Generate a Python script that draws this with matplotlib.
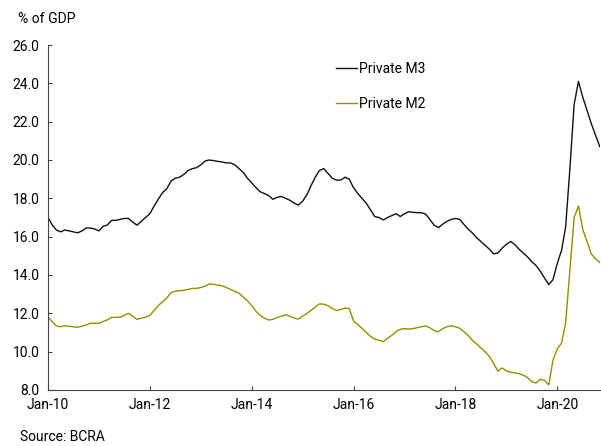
import matplotlib
matplotlib.use('Agg')
import matplotlib.pyplot as plt
import matplotlib.dates as mdates
import pandas as pd

plt.rcParams['font.family'] = ['Roboto', 'DejaVu Sans']

# monthly, Jan-2010 .. Nov-2020, % of GDP
months = pd.date_range('2010-01-01', '2020-11-01', freq='MS')

private_m3 = [
    17.0, 16.6, 16.35, 16.25, 16.35, 16.3, 16.25, 16.2, 16.3, 16.45, 16.45, 16.4,
    16.3, 16.55, 16.6, 16.85, 16.85, 16.9, 16.95, 16.95, 16.75, 16.6, 16.8, 17.0,
    17.2, 17.6, 17.95, 18.3, 18.5, 18.9, 19.05, 19.1, 19.25, 19.45, 19.55, 19.6,
    19.75, 19.95, 20.0, 19.97, 19.93, 19.9, 19.85, 19.85, 19.75, 19.55, 19.35, 19.05,
    18.8, 18.55, 18.35, 18.25, 18.15, 17.95, 18.05, 18.1, 18.0, 17.9, 17.75, 17.65,
    17.85, 18.2, 18.65, 19.1, 19.45, 19.55, 19.3, 19.05, 18.95, 18.95, 19.1, 19.0,
    18.55, 18.25, 18.0, 17.75, 17.4, 17.05, 17.0, 16.87, 17.0, 17.1, 17.2, 17.05,
    17.2, 17.3, 17.27, 17.25, 17.25, 17.18, 16.9, 16.6, 16.47, 16.65, 16.8, 16.9,
    16.95, 16.9, 16.65, 16.4, 16.2, 15.95, 15.75, 15.55, 15.35, 15.1, 15.15, 15.4,
    15.6, 15.75, 15.6, 15.35, 15.15, 14.95, 14.7, 14.5, 14.2, 13.85, 13.5, 13.75,
    14.6, 15.3, 16.5, 19.6, 22.9, 24.1, 23.3, 22.6, 21.9, 21.3, 20.7,
]

private_m2 = [
    11.8, 11.55, 11.35, 11.3, 11.35, 11.32, 11.3, 11.27, 11.32, 11.4, 11.48, 11.48,
    11.48, 11.58, 11.65, 11.79, 11.79, 11.8, 11.9, 12.0, 11.85, 11.68, 11.75, 11.8,
    11.9, 12.15, 12.4, 12.6, 12.8, 13.08, 13.15, 13.18, 13.2, 13.25, 13.3, 13.3,
    13.35, 13.42, 13.53, 13.52, 13.47, 13.44, 13.35, 13.25, 13.15, 13.05, 12.85, 12.65,
    12.4, 12.1, 11.9, 11.75, 11.65, 11.68, 11.78, 11.85, 11.92, 11.85, 11.75, 11.7,
    11.85, 12.0, 12.15, 12.32, 12.49, 12.48, 12.4, 12.25, 12.15, 12.2, 12.27, 12.25,
    11.6, 11.4, 11.22, 11.0, 10.8, 10.65, 10.6, 10.52, 10.7, 10.85, 11.05, 11.17,
    11.2, 11.18, 11.2, 11.25, 11.3, 11.34, 11.25, 11.1, 11.04, 11.2, 11.3, 11.35,
    11.3, 11.22, 11.05, 10.85, 10.6, 10.4, 10.2, 10.0, 9.75, 9.4, 8.98, 9.15,
    9.0, 8.92, 8.9, 8.85, 8.78, 8.65, 8.45, 8.36, 8.56, 8.5, 8.27, 9.55,
    10.15, 10.45, 11.5, 14.3, 17.0, 17.6, 16.4, 15.75, 15.1, 14.85, 14.65,
]

fig = plt.figure(figsize=(6.01, 4.46), dpi=100)
ax = fig.add_axes([0.08, 0.1256, 0.918, 0.7735])

ax.plot(months, private_m3, color='#111111', lw=1.0, label='Private M3')
ax.plot(months, private_m2, color='#8f9100', lw=1.0, label='Private M2')

ax.set_ylim(8, 26)
ax.set_yticks(range(8, 27, 2))
ax.yaxis.set_major_formatter(matplotlib.ticker.FormatStrFormatter('%.1f'))
ax.set_xlim(months[0], months[-1])
ax.xaxis.set_major_locator(mdates.YearLocator(2, month=1, day=1))
ax.xaxis.set_major_formatter(mdates.DateFormatter('Jan-%y'))

for s in ['top', 'right']:
    ax.spines[s].set_visible(False)
for s in ['left', 'bottom']:
    ax.spines[s].set_color('#444444')
ax.tick_params(direction='in', length=3, color='#444444', labelsize=10, pad=6)

ax.legend(loc='upper left', bbox_to_anchor=(0.5, 0.986), frameon=False, fontsize=10,
          handlelength=1.5, handletextpad=0.1, labelspacing=1.5)

fig.text(0.03, 0.957, '% of GDP', fontsize=10, va='center')
fig.text(0.033, 0.02, 'Source: BCRA', fontsize=10, va='center')

fig.savefig('out.png', dpi=100)
